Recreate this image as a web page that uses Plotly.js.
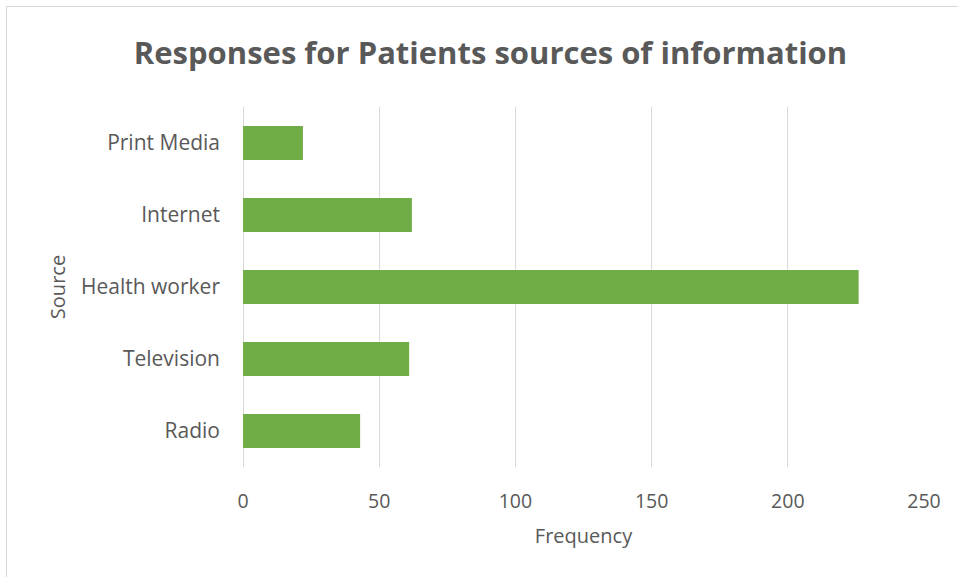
<!DOCTYPE html>
<html><head><meta charset="utf-8">
<script src="https://cdn.plot.ly/plotly-3.0.1.min.js"></script>
<style>
body{margin:0;padding:0;background:#fff;}
#wrap{position:relative;width:958px;height:577px;}
#chart{width:958px;height:577px;}
#frame{position:absolute;left:6px;top:6px;width:960px;height:580px;border:1px solid #d9d9d9;pointer-events:none;}
</style></head>
<body>
<div id="wrap"><div id="chart"></div><div id="frame"></div></div>
<script>
const categories = ["Radio", "Television", "Health worker", "Internet", "Print Media"];
const frequency = [43, 61, 226, 62, 22];
const xTicks = [0, 50, 100, 150, 200, 250];

const trace = {
  type: 'bar',
  orientation: 'h',
  y: categories,
  x: frequency,
  marker: {color: '#70AD47', line: {width: 0}},
  hoverinfo: 'x+y'
};

const FONT = '"Open Sans", "Noto Sans", sans-serif';
const layout = {
  width: 958, height: 577,
  margin: {l: 243, r: 34, t: 107, b: 110},
  paper_bgcolor: '#ffffff', plot_bgcolor: '#ffffff',
  font: {family: FONT, color: '#595959', size: 20},
  title: {
    text: 'Responses for Patients sources of information',
    font: {family: FONT, size: 31, color: '#595959', weight: 'bold'},
    x: 0.512, xanchor: 'center', y: 0.908, yanchor: 'middle'
  },
  bargap: 0.53,
  showlegend: false,
  xaxis: {
    range: [0, 250],
    tickvals: xTicks,
    showgrid: true, gridcolor: '#d9d9d9', gridwidth: 1,
    zeroline: true, zerolinecolor: '#d9d9d9', zerolinewidth: 1,
    showline: false,
    ticks: '', ticklabelstandoff: 20,
    tickfont: {size: 19.5, color: '#595959'},
    title: {text: 'Frequency', font: {size: 20, color: '#595959'}, standoff: 16}
  },
  yaxis: {
    type: 'category',
    categoryorder: 'array', categoryarray: categories,
    showgrid: false, zeroline: false, showline: false,
    ticks: '', ticklabelstandoff: 22,
    tickfont: {size: 21, color: '#595959'},
    title: {text: 'Source', font: {size: 20, color: '#595959'}, standoff: 10}
  }
};

Plotly.newPlot('chart', [trace], layout, {displayModeBar: false, staticPlot: true});
</script>
</body></html>
